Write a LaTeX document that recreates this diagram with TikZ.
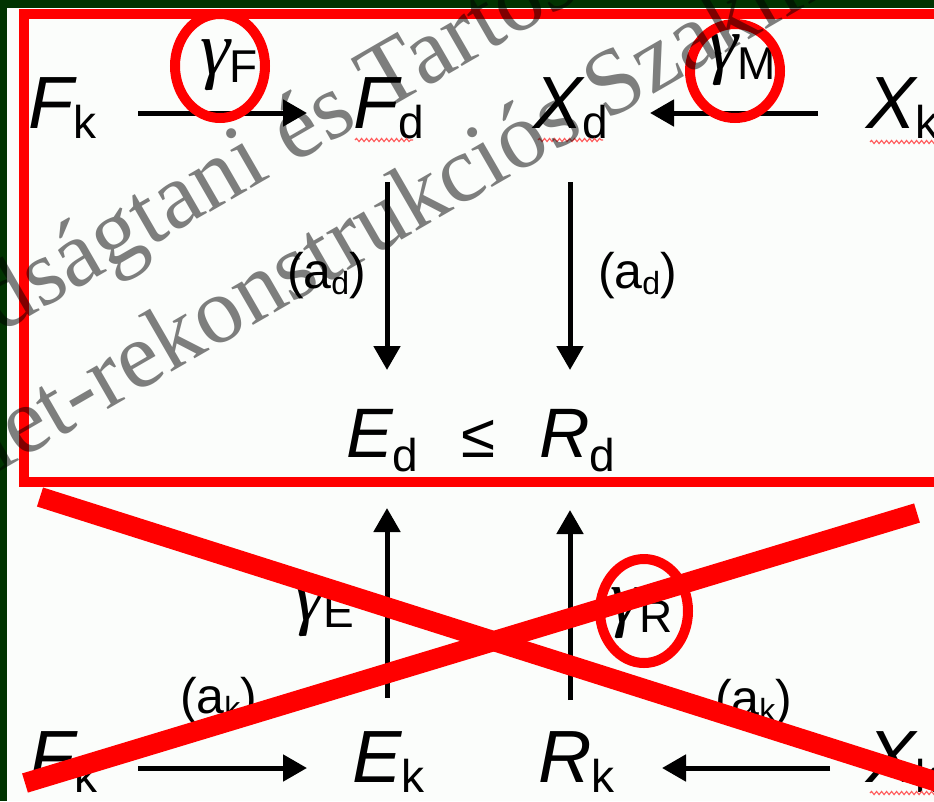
\documentclass[tikz,border=0pt]{standalone}
\usepackage{fontspec}
\setmainfont{Liberation Sans}
\newfontfamily\wmfont{Liberation Serif}
\newfontfamily\gfont{Liberation Serif}
\usetikzlibrary{arrows.meta,calc,decorations.pathmorphing}
\definecolor{bg}{RGB}{251,253,251}
\definecolor{dkgreen}{RGB}{0,51,0}
\definecolor{xred}{RGB}{255,0,0}
\definecolor{sq}{RGB}{255,90,90}
\newcommand\bigsym[2]{{\fontsize{74}{80}\selectfont\itshape #1}{\fontsize{46}{50}\selectfont\raisebox{-10pt}{#2}}}
\newcommand\midsym[2]{{\fontsize{70}{76}\selectfont\itshape #1}{\fontsize{46}{50}\selectfont\raisebox{-14pt}{#2}}}
\newcommand\gsym[2][8pt]{{\fontsize{76}{82}\selectfont\gfont\itshape γ}{\fontsize{46}{50}\selectfont\raisebox{-#1}{#2}}}
\newcommand\asym[1]{{\fontsize{50}{56}\selectfont(a{\fontsize{32}{36}\selectfont\raisebox{-6pt}{#1}})}}
\begin{document}
\begin{tikzpicture}[x=1pt,y=-1pt,
  lbl/.style={inner sep=0pt,outer sep=0pt,anchor=base west},
  arr/.style={line width=5pt,-{Triangle[length=24pt,width=26pt]}},
  wm/.style={inner sep=0pt,anchor=base west,rotate=30,text=black,text opacity=0.5,font=\wmfont\fontsize{94}{100}\selectfont},
  sqg/.style={draw=sq,line width=1.1pt,decorate,decoration={snake,amplitude=1.6pt,segment length=5pt}},
  ring/.style={draw=xred,line width=10pt},
  cross/.style={draw=xred,line width=20pt}]
\useasboundingbox (0,0) rectangle (934,801);
\begin{scope}
\clip (0,0) rectangle (934,801);
\fill[bg] (0,0) rectangle (934,801);
\fill[dkgreen] (0,0) rectangle (934,8);
\fill[dkgreen] (0,0) rectangle (7,801);

% symbols
\node[lbl] (Fk) at (28,128) {\bigsym{F}{k}};
\node[lbl] (Fd) at (353,128) {\bigsym{F}{d}};
\node[lbl] (Xd) at (533,128) {\bigsym{X}{d}};
\node[lbl] (Xk) at (866,128) {\bigsym{X}{k}};
\node[lbl] (Ed) at (346,457) {\midsym{E}{d}};
\node[lbl] (le) at (461,457) {\fontsize{62}{68}\selectfont ≤};
\node[lbl] (Rd) at (539,457) {\midsym{R}{d}};
\node[lbl] (Fkb) at (29,782) {\bigsym{F}{k}};
\node[lbl] (Ek) at (352,782) {\bigsym{E}{k}};
\node[lbl] (Rk) at (538,782) {\bigsym{R}{k}};
\node[lbl] (Xkb) at (866,782) {\bigsym{X}{k}};

% labels
\node[lbl] (gF) at (200,74) {\gsym{F}};
\node[lbl] (gM) at (708,69) {\gsym[10pt]{M}};
\node[lbl] (gE) at (294,620) {\gsym[7pt]{E}};
\node[lbl] (gR) at (610,622) {\gsym[10pt]{R}};
\node[lbl] (ad1) at (287,288) {\asym{d}};
\node[lbl] (ad2) at (598,288) {\asym{d}};
\node[lbl] (ak1) at (180,713) {\asym{k}};
\node[lbl] (ak2) at (715,715) {\asym{k}};

% arrows
\draw[arr] ($(Fk.base west)+(110,-15)$) -- ($(Fd.base west)+(-46,-15)$);
\draw[arr] ($(Xk.base west)+(-48,-15)$) -- ($(Xd.base west)+(117,-15)$);
\draw[arr] ($(Fd.base west)+(34,54)$) -- ($(Ed.base west)+(41,-87)$);
\draw[arr] ($(Xd.base west)+(37,54)$) -- ($(Rd.base west)+(31,-87)$);
\draw[arr] ($(Ek.base west)+(35,-84)$) -- ($(Ed.base west)+(41,51)$);
\draw[arr] ($(Rk.base west)+(32,-82)$) -- ($(Rd.base west)+(31,53)$);
\draw[arr] ($(Fkb.base west)+(109,-14)$) -- ($(Ek.base west)+(-45,-14)$);
\draw[arr] ($(Xkb.base west)+(-36,-14)$) -- ($(Rk.base west)+(124,-14)$);

% spell-check squiggles
\draw[sqg] ($(Fd.base west)+(2,12)$) -- ++(58,0);
\draw[sqg] ($(Xd.base west)+(5,12)$) -- ++(65,0);
\draw[sqg] ($(Xk.base west)+(4,14)$) -- ++(68,0);
\draw[sqg] ($(Xkb.base west)+(4,11)$) -- ++(68,0);

% red marks
\draw[xred,line width=10pt] (24,14) rectangle (990,482);
\draw[ring] (220,66) ellipse [x radius=45,y radius=52];
\draw[ring] (735,71) ellipse [x radius=45,y radius=47];
\draw[ring] (644,611) ellipse [x radius=44,y radius=52];
\draw[cross] (40,497) -- (950,786);
\draw[cross] (25,783) -- (917,513);

% watermark
\node[wm] (wm1) at (380,114) {\llap{Szilárdságtani és }Tartószerkezeti};
\node[wm] (wm2) at (606,122) {\llap{Épület-rekonstrukciós }Szakmérnöki};
\end{scope}
\end{tikzpicture}
\end{document}
